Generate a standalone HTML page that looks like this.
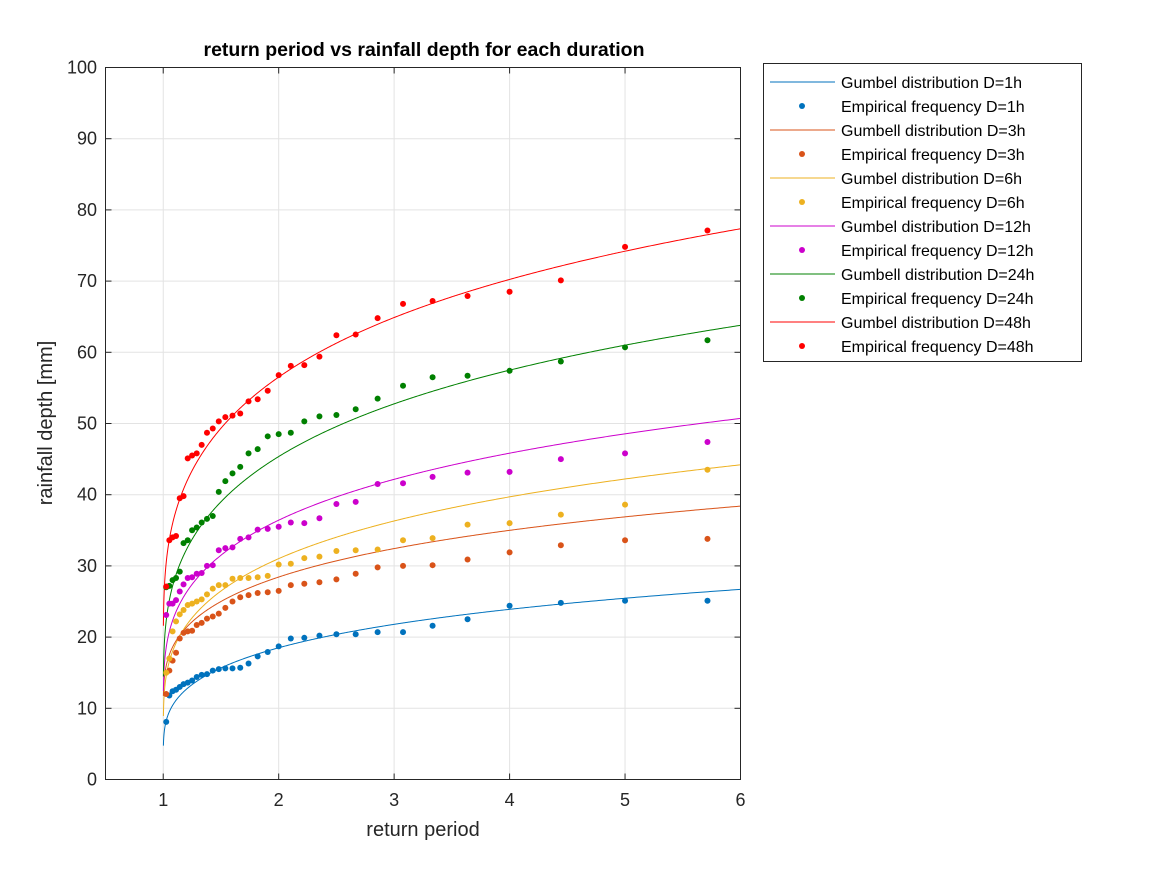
<!DOCTYPE html>
<html><head><meta charset="utf-8"><style>
body{margin:0;background:#fff;font-family:"Liberation Sans",sans-serif;}
svg text{font-family:"Liberation Sans",sans-serif;}
</style></head><body>
<svg id="chart" width="1167" height="875" xmlns="http://www.w3.org/2000/svg">
<rect width="1167" height="875" fill="#fff"/>
<g id="grid"></g>
<g id="curves"></g>
<g id="points"></g>
<rect x="105.5" y="67.5" width="635" height="712" fill="none" stroke="#262626" stroke-width="1"/>
<g id="ticks"></g>
<text x="424" y="56" text-anchor="middle" font-size="19.5" font-weight="bold" fill="#000">return period vs rainfall depth for each duration</text>
<text x="423" y="836" text-anchor="middle" font-size="20" fill="#262626">return period</text>
<text transform="translate(52,423) rotate(-90)" text-anchor="middle" font-size="20" fill="#262626">rainfall depth [mm]</text>
<g id="legend"></g>
</svg>
<script>
const returnPeriods=[1.026,1.053,1.081,1.111,1.143,1.176,1.212,1.25,1.29,1.333,1.379,1.429,1.481,1.538,1.6,1.667,1.739,1.818,1.905,2,2.105,2.222,2.353,2.5,2.667,2.857,3.077,3.333,3.636,4,4.444,5,5.714];
const emp1h=[8.1,11.8,12.4,12.6,13.0,13.4,13.6,13.9,14.4,14.7,14.8,15.3,15.5,15.6,15.6,15.7,16.3,17.3,17.9,18.7,19.8,19.9,20.2,20.4,20.4,20.7,20.7,21.6,22.5,24.4,24.8,25.1,25.1];
const emp3h=[12.0,15.3,16.7,17.8,19.8,20.6,20.8,20.9,21.7,22.0,22.6,22.9,23.3,24.1,25.0,25.6,25.9,26.2,26.3,26.5,27.3,27.5,27.7,28.1,28.9,29.8,30.0,30.1,30.9,31.9,32.9,33.6,33.8];
const emp6h=[15.0,17.0,20.8,22.2,23.2,23.8,24.5,24.7,25.0,25.3,26.0,26.8,27.3,27.3,28.2,28.3,28.3,28.4,28.6,30.2,30.3,31.1,31.3,32.1,32.2,32.3,33.6,33.9,35.8,36.0,37.2,38.6,43.5];
const emp12h=[23.1,24.7,24.7,25.2,26.4,27.4,28.3,28.4,28.9,29.0,30.0,30.1,32.2,32.5,32.6,33.8,34.0,35.1,35.2,35.5,36.1,36.0,36.7,38.7,39.0,41.5,41.6,42.5,43.1,43.2,45.0,45.8,47.4];
const emp24h=[27.0,27.2,28.0,28.3,29.2,33.2,33.6,35.0,35.4,36.1,36.6,37.0,40.4,41.9,43.0,43.9,45.8,46.4,48.2,48.5,48.7,50.3,51.0,51.2,52.0,53.5,55.3,56.5,56.7,57.4,58.7,60.7,61.7];
const emp48h=[27.1,33.6,34.0,34.2,39.5,39.8,45.1,45.5,45.8,47.0,48.7,49.3,50.3,50.9,51.1,51.4,53.1,53.4,54.6,56.8,58.1,58.2,59.4,62.4,62.5,64.8,66.8,67.2,67.9,68.5,70.1,74.8,77.1];
const gumbelMu=[16.25,25.7,27.4,32.5,40.3,50.8];
const gumbelBeta=[6.14,7.46,9.87,10.7,13.8,15.6];
const xTicks=[1,2,3,4,5,6];
const yTicks=[0,10,20,30,40,50,60,70,80,90,100];
const legendLabels=["Gumbel distribution D=1h","Empirical frequency D=1h","Gumbell distribution D=3h","Empirical frequency D=3h","Gumbel distribution D=6h","Empirical frequency D=6h","Gumbel distribution D=12h","Empirical frequency D=12h","Gumbell distribution D=24h"," Empirical frequency D=24h","Gumbel distribution D=48h","Empirical frequency D=48h"];

const colors=["#0072BD","#D95319","#EDB120","#CC00CC","#008000","#FF0000"];
const empSeries=[emp1h,emp3h,emp6h,emp12h,emp24h,emp48h];
const NS="http://www.w3.org/2000/svg";
const X0=105.5,X1=740.5,Y0=779.5,Y1=67.5;
const sx=v=>X0+(v-0.5)/(6-0.5)*(X1-X0);
const sy=v=>Y0-(v-0)/(100-0)*(Y0-Y1);
function mk(tag,attrs,parent){const e=document.createElementNS(NS,tag);for(const k in attrs)e.setAttribute(k,attrs[k]);parent.appendChild(e);return e;}
const grid=document.getElementById('grid'),ticks=document.getElementById('ticks');
xTicks.forEach(t=>{
  const l=mk('line',{x1:sx(t),x2:sx(t),y1:Y0,y2:Y1,stroke:'#e3e3e3','stroke-width':1},grid);
  
  
  const tk=mk('line',{x1:sx(t),x2:sx(t),y1:Y0,y2:Y0-6,stroke:'#262626'},ticks);
  
  
  const tk2=mk('line',{x1:sx(t),x2:sx(t),y1:Y1,y2:Y1+6,stroke:'#262626'},ticks);
  
  
  const tx=mk('text',{x:sx(t),y:806,'text-anchor':'middle','font-size':18,fill:'#262626'},ticks);
  tx.textContent=t;
  
  
});
yTicks.forEach(t=>{
  const l=mk('line',{x1:X0,x2:X1,y1:sy(t),y2:sy(t),stroke:'#e3e3e3','stroke-width':1},grid);
  
  
  const tk=mk('line',{x1:X0,x2:X0+6,y1:sy(t),y2:sy(t),stroke:'#262626'},ticks);
  
  
  const tk2=mk('line',{x1:X1,x2:X1-6,y1:sy(t),y2:sy(t),stroke:'#262626'},ticks);
  
  
  const tx=mk('text',{x:97,y:sy(t)+6,'text-anchor':'end','font-size':18,fill:'#262626'},ticks);
  tx.textContent=t;
  
  
});
const curves=document.getElementById('curves'),pts=document.getElementById('points');
gumbelMu.forEach((mu,i)=>{
  const b=gumbelBeta[i];let d='';
  for(let k=0;k<=600;k++){
    const T=1.0015+(6-1.0015)*Math.pow(k/600,2);
    let v=mu-b*Math.log(-Math.log(1-1/T));
    if(v<0)continue;
    d+=(d?'L':'M')+sx(T).toFixed(2)+','+sy(v).toFixed(2);
  }
  const p=mk('path',{d:d,fill:'none',stroke:colors[i],'stroke-width':1},curves);
  
  
});
empSeries.forEach((arr,i)=>{
  arr.forEach((v,j)=>{
    const c=mk('circle',{cx:sx(returnPeriods[j]),cy:sy(v),r:3,fill:colors[i]},pts);
    
    
  });
});
const lg=document.getElementById('legend');
const box=mk('rect',{x:763.5,y:63.5,width:318,height:298,fill:'#fff',stroke:'#262626'},lg);


legendLabels.forEach((lab,i)=>{
  const y=82+i*24,c=colors[Math.floor(i/2)];
  const g=mk('g',{},lg);
  
  
  if(i%2===0)mk('line',{x1:770,x2:835,y1:y,y2:y,stroke:c,'stroke-width':1},g);
  else mk('circle',{cx:802,cy:y,r:3,fill:c},g);
  const t=mk('text',{x:841,y:y+6,'font-size':16,fill:'#000'},g);
  t.textContent=lab;
});
</script>
</body></html>
